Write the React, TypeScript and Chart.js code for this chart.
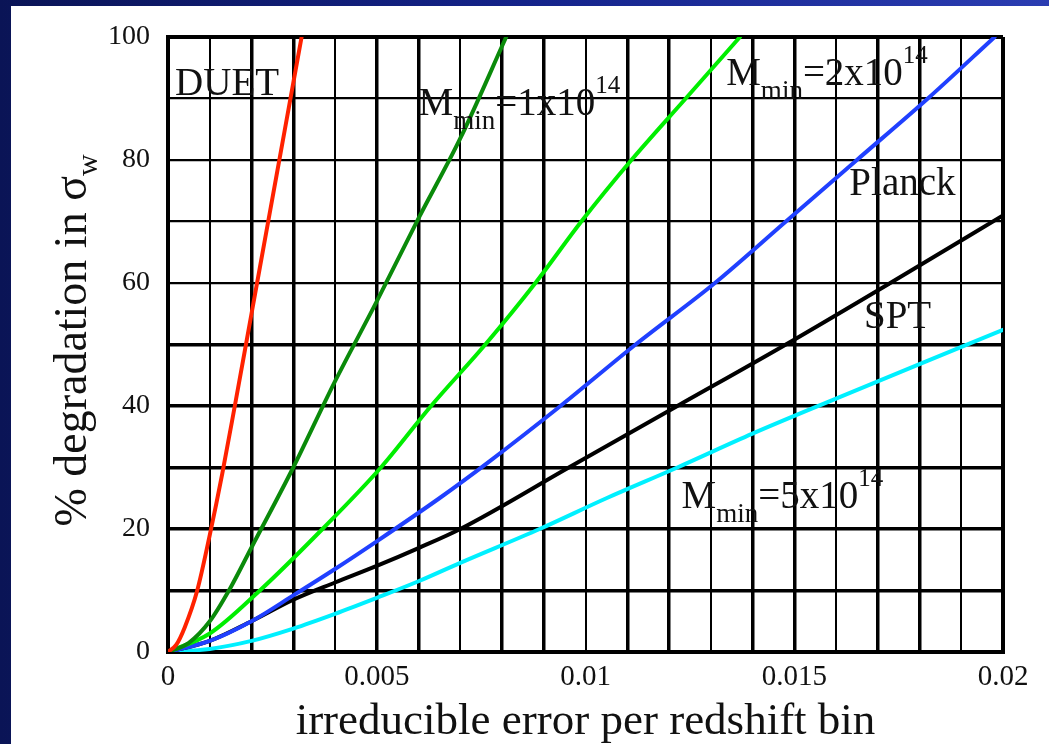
import React, { useEffect, useRef } from "react";
import { Chart, registerables } from "chart.js";

Chart.register(...registerables);

const SERIF = '"Liberation Serif", "Times New Roman", serif';
const INK = "#111";

// irreducible error per redshift bin (x) vs % degradation in sigma_w (y)
const duetErr = [0, 0.0002, 0.0004, 0.0007, 0.001, 0.0013, 0.0016, 0.002, 0.0024, 0.0028, 0.0032];
const duetDeg = [0, 1.2, 4, 10, 19, 29, 40, 55, 70, 85, 100];

const m1Err = [0, 0.0005, 0.001, 0.0015, 0.002, 0.003, 0.004, 0.005, 0.006, 0.007, 0.0081];
const m1Deg = [0, 1.5, 5, 10.5, 17, 30, 44, 57, 70.5, 83.5, 100];

const m2Err = [0, 0.001, 0.0022, 0.0037, 0.0051, 0.0063, 0.0076, 0.0088, 0.0099, 0.0111, 0.0124, 0.0137];
const m2Deg = [0, 3, 10, 20, 30, 40, 50, 60, 70, 80, 90, 100];

const planckErr = [0, 0.001, 0.002, 0.003, 0.004, 0.005, 0.0065, 0.0077, 0.0094, 0.0112, 0.0131, 0.0148, 0.0165, 0.0182, 0.0198];
const planckDeg = [0, 1.8, 5, 9.2, 13.5, 18, 25, 31, 40, 50, 60, 70, 80, 90, 100];

const sptErr = [0, 0.001, 0.002, 0.003, 0.004, 0.005, 0.006, 0.007, 0.0096, 0.0122, 0.0148, 0.0173, 0.02];
const sptDeg = [0, 1.8, 5, 8.5, 11.3, 14, 16.9, 20, 30, 40, 50, 60, 71];

const m5Err = [0, 0.001, 0.002, 0.003, 0.004, 0.005, 0.006, 0.007, 0.0089, 0.0105, 0.0122, 0.014, 0.016, 0.018, 0.02];
const m5Deg = [0, 0.5, 1.8, 3.8, 6.2, 8.8, 11.5, 14.5, 20, 25, 30, 35.5, 41.2, 46.8, 52.4];

// axis grid and labelled ticks
const xGrid = Array.from({ length: 21 }, (_, i) => i / 1000);
const yGrid = [0, 10, 20, 30, 40, 50, 60, 70, 80, 90, 100];
const xTickValues = [0, 0.005, 0.01, 0.015, 0.02];
const xTickLabels = ["0", "0.005", "0.01", "0.015", "0.02"];
const yTickValues = [0, 20, 40, 60, 80, 100];
const yTickLabels = ["0", "20", "40", "60", "80", "100"];

const xTitle = "irreducible error per redshift bin";
const yTitle = "% degradation in ";

// curve annotations, anchored in data coordinates
type Part = { text: string; kind: "main" | "sub" | "sup" };
const curveNotes: { x: number; y: number; parts: Part[] }[] = [
  { x: 0.00017, y: 90.6, parts: [{ text: "DUET", kind: "main" }] },
  {
    x: 0.006,
    y: 87.3,
    parts: [
      { text: "M", kind: "main" },
      { text: "min", kind: "sub" },
      { text: "=1x10", kind: "main" },
      { text: "14", kind: "sup" },
    ],
  },
  {
    x: 0.01337,
    y: 92.2,
    parts: [
      { text: "M", kind: "main" },
      { text: "min", kind: "sub" },
      { text: "=2x10", kind: "main" },
      { text: "14", kind: "sup" },
    ],
  },
  { x: 0.01632, y: 74.3, parts: [{ text: "Planck", kind: "main" }] },
  { x: 0.01667, y: 52.7, parts: [{ text: "SPT", kind: "main" }] },
  {
    x: 0.0123,
    y: 23.4,
    parts: [
      { text: "M", kind: "main" },
      { text: "min", kind: "sub" },
      { text: "=5x10", kind: "main" },
      { text: "14", kind: "sup" },
    ],
  },
];

const partStyle = {
  main: { size: 39, dy: 0 },
  sub: { size: 27, dy: 14 },
  sup: { size: 25, dy: -22 },
};

function toPoints(xs: number[], ys: number[]) {
  return xs.map((x, i) => ({ x, y: ys[i] }));
}

function drawParts(ctx: CanvasRenderingContext2D, x: number, y: number, parts: Part[]) {
  let cx = x;
  for (const p of parts) {
    const st = partStyle[p.kind];
    ctx.font = `${st.size}px ${SERIF}`;
    ctx.fillText(p.text, cx, y + st.dy);
    cx += ctx.measureText(p.text).width;
  }
}

const annotationPlugin = {
  id: "curveNotes",
  afterDatasetsDraw(chart: any) {
    const ctx: CanvasRenderingContext2D = chart.ctx;
    const xs = chart.scales.x;
    const ys = chart.scales.y;
    ctx.save();
    ctx.fillStyle = INK;
    ctx.textAlign = "left";
    ctx.textBaseline = "alphabetic";
    for (const n of curveNotes) {
      drawParts(ctx, xs.getPixelForValue(n.x), ys.getPixelForValue(n.y), n.parts);
    }
    ctx.restore();
  },
  afterDraw(chart: any) {
    const ctx: CanvasRenderingContext2D = chart.ctx;
    const area = chart.chartArea;
    ctx.save();
    ctx.fillStyle = INK;
    ctx.textBaseline = "alphabetic";

    // x axis title
    ctx.font = `45px ${SERIF}`;
    ctx.textAlign = "center";
    ctx.fillText(xTitle, (area.left + area.right) / 2, chart.height - 10);

    // y axis title, rotated, with sigma_w
    ctx.textAlign = "left";
    ctx.font = `46px ${SERIF}`;
    const w1 = ctx.measureText(yTitle + "σ").width;
    ctx.font = `30px ${SERIF}`;
    const w2 = ctx.measureText("w").width;
    const total = w1 + w2;
    const cy = (area.top + area.bottom) / 2 - 4;
    ctx.translate(86, cy + total / 2);
    ctx.rotate(-Math.PI / 2);
    ctx.font = `46px ${SERIF}`;
    ctx.fillText(yTitle + "σ", 0, 0);
    ctx.font = `30px ${SERIF}`;
    ctx.fillText("w", w1, 11);
    ctx.restore();
  },
};

function matchLabel(values: number[], labels: string[], v: number) {
  const i = values.findIndex((t) => Math.abs(t - v) < 1e-9);
  return i >= 0 ? labels[i] : "";
}

export default function App() {
  const canvasRef = useRef<HTMLCanvasElement | null>(null);

  useEffect(() => {
    const canvas = canvasRef.current;
    if (!canvas) return;

    const line = (pts: { x: number; y: number }[], color: string) => ({
      data: pts,
      borderColor: color,
      backgroundColor: color,
      borderWidth: 4,
      pointRadius: 0,
      fill: false,
      cubicInterpolationMode: "monotone" as const,
      borderCapStyle: "round" as const,
    });

    const chart = new Chart(canvas, {
      type: "line",
      data: {
        datasets: [
          line(toPoints(duetErr, duetDeg), "#ff2200"),
          line(toPoints(m1Err, m1Deg), "#0a8a0a"),
          line(toPoints(m2Err, m2Deg), "#00ee00"),
          line(toPoints(planckErr, planckDeg), "#2040ff"),
          line(toPoints(sptErr, sptDeg), "#000000"),
          line(toPoints(m5Err, m5Deg), "#00f0ff"),
        ],
      },
      options: {
        animation: false,
        responsive: false,
        devicePixelRatio: 1,
        layout: { padding: { top: 37, right: 46, bottom: 0, left: 0 } },
        plugins: {
          legend: { display: false },
          tooltip: { enabled: false },
        },
        scales: {
          x: {
            type: "linear",
            min: 0,
            max: 0.02,
            afterBuildTicks: (s: any) => {
              s.ticks = xGrid.map((v) => ({ value: v }));
            },
            afterFit: (s: any) => {
              s.height = 92;
            },
            grid: {
              color: "#000",
              drawTicks: false,
              lineWidth: (c: any) => (c.index === 0 || c.index === 20 ? 4 : c.index % 3 === 1 ? 2 : 3.5),
            },
            border: { display: true, color: "#000", width: 4 },
            ticks: {
              autoSkip: false,
              maxRotation: 0,
              padding: 8,
              color: INK,
              font: { family: SERIF, size: 29 },
              callback: (v: any) => matchLabel(xTickValues, xTickLabels, Number(v)),
            },
          },
          y: {
            type: "linear",
            min: 0,
            max: 100,
            afterBuildTicks: (s: any) => {
              s.ticks = yGrid.map((v) => ({ value: v }));
            },
            afterFit: (s: any) => {
              s.width = 168;
            },
            grid: {
              color: "#000",
              drawTicks: false,
              lineWidth: (c: any) => {
                const v = c.tick ? c.tick.value : 0;
                if (v === 0 || v === 100) return 4;
                return v <= 50 ? 3.5 : 2.2;
              },
            },
            border: { display: true, color: "#000", width: 4 },
            ticks: {
              autoSkip: false,
              padding: 18,
              color: INK,
              font: { family: SERIF, size: 28 },
              callback: (v: any) => matchLabel(yTickValues, yTickLabels, Number(v)),
            },
          },
        },
      },
      plugins: [annotationPlugin],
    });

    return () => chart.destroy();
  }, []);

  return (
    <div
      style={{
        position: "fixed",
        left: 0,
        top: 0,
        width: 1049,
        height: 744,
        overflow: "hidden",
        background: "linear-gradient(to right, #0a1456 0%, #14238a 50%, #2b3db2 100%)",
      }}
    >
      <div
        style={{
          position: "absolute",
          left: 11,
          top: 6,
          right: 0,
          bottom: 0,
          background: "#ffffff",
        }}
      />
      <canvas
        ref={canvasRef}
        width={1049}
        height={744}
        style={{ position: "absolute", left: 0, top: 0, width: 1049, height: 744, display: "block" }}
      />
    </div>
  );
}
